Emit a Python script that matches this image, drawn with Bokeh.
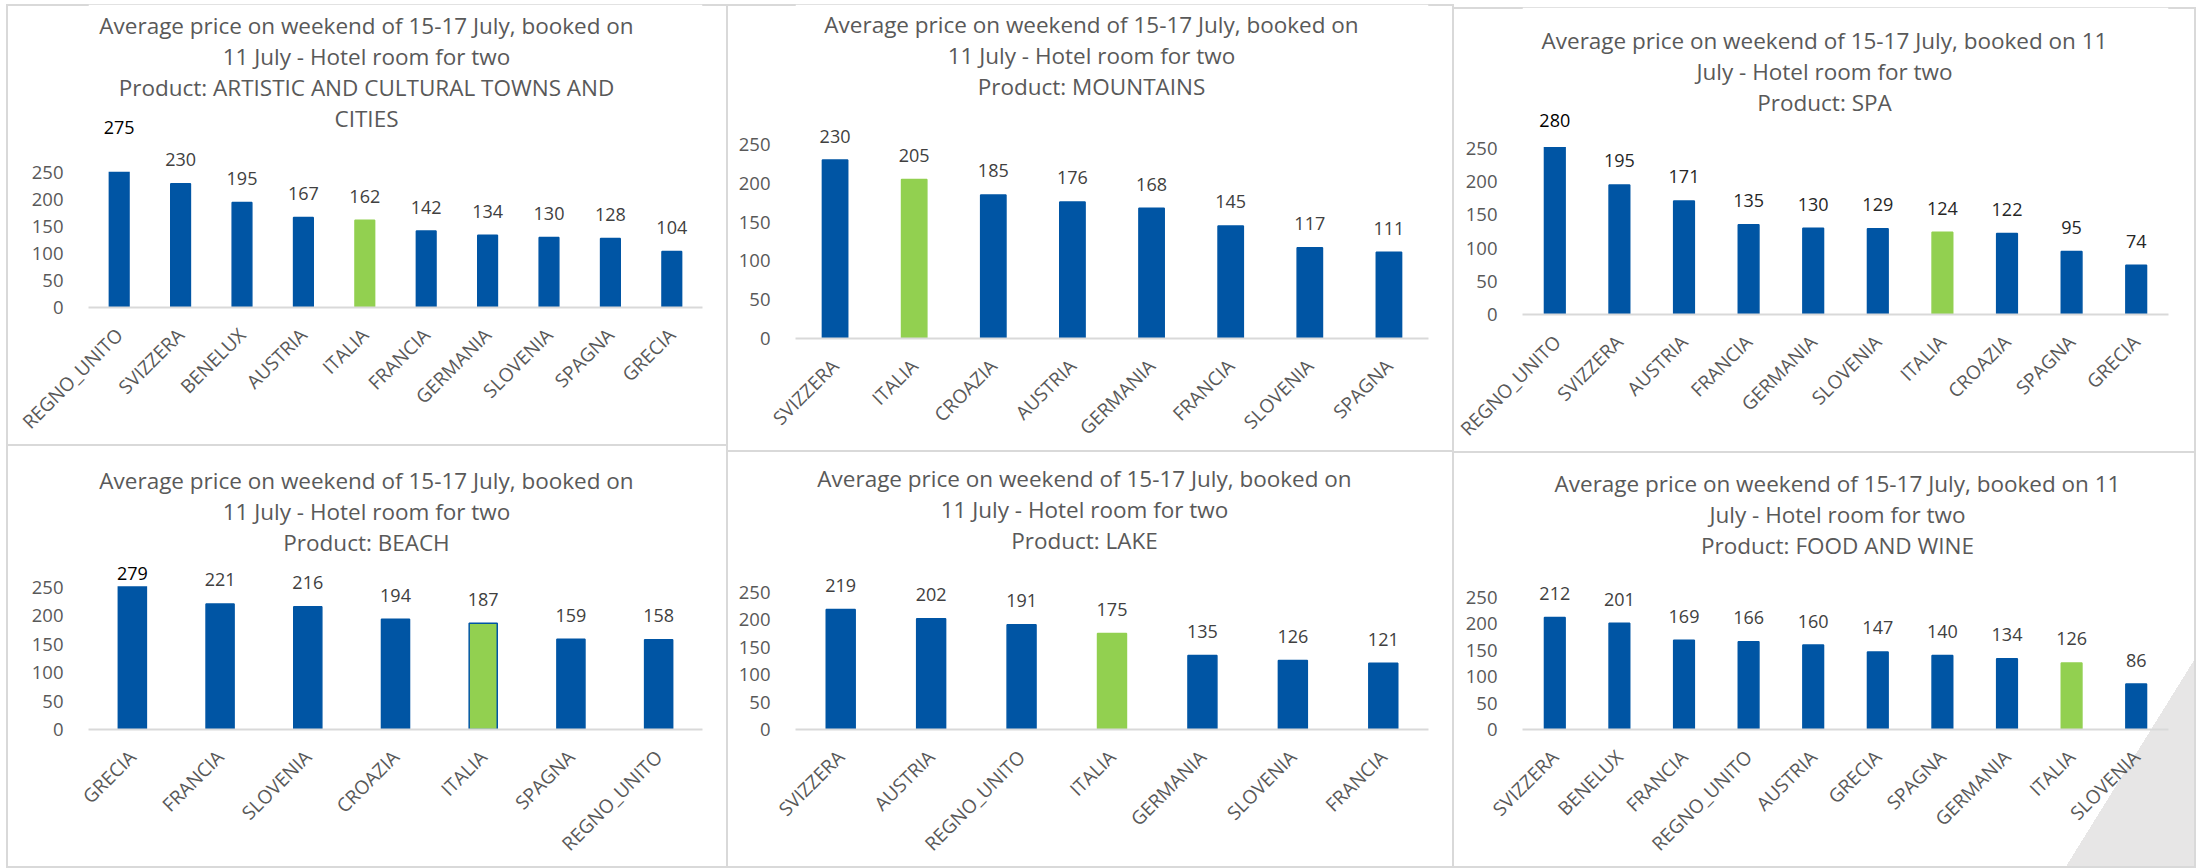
import math

from bokeh.core.properties import value
from bokeh.embed import file_html
from bokeh.layouts import column, row
from bokeh.models import (BoxAnnotation, ColumnDataSource, FactorRange,
                          FixedTicker, Label, LabelSet, Range1d)
from bokeh.plotting import figure
from bokeh.resources import INLINE

# ---------------------------------------------------------------- data
art_countries = ["REGNO_UNITO", "SVIZZERA", "BENELUX", "AUSTRIA", "ITALIA",
                 "FRANCIA", "GERMANIA", "SLOVENIA", "SPAGNA", "GRECIA"]
art_prices = [275, 230, 195, 167, 162, 142, 134, 130, 128, 104]

mountain_countries = ["SVIZZERA", "ITALIA", "CROAZIA", "AUSTRIA", "GERMANIA",
                      "FRANCIA", "SLOVENIA", "SPAGNA"]
mountain_prices = [230, 205, 185, 176, 168, 145, 117, 111]

spa_countries = ["REGNO_UNITO", "SVIZZERA", "AUSTRIA", "FRANCIA", "GERMANIA",
                 "SLOVENIA", "ITALIA", "CROAZIA", "SPAGNA", "GRECIA"]
spa_prices = [280, 195, 171, 135, 130, 129, 124, 122, 95, 74]

beach_countries = ["GRECIA", "FRANCIA", "SLOVENIA", "CROAZIA", "ITALIA",
                   "SPAGNA", "REGNO_UNITO"]
beach_prices = [279, 221, 216, 194, 187, 159, 158]

lake_countries = ["SVIZZERA", "AUSTRIA", "REGNO_UNITO", "ITALIA", "GERMANIA",
                  "SLOVENIA", "FRANCIA"]
lake_prices = [219, 202, 191, 175, 135, 126, 121]

food_countries = ["SVIZZERA", "BENELUX", "FRANCIA", "REGNO_UNITO", "AUSTRIA",
                  "GRECIA", "SPAGNA", "GERMANIA", "ITALIA", "SLOVENIA"]
food_prices = [212, 201, 169, 166, 160, 147, 140, 134, 126, 86]

y_ticks = [0, 50, 100, 150, 200, 250]
highlight_country = "ITALIA"

art_title = ["Average price on weekend of 15-17 July, booked on",
             "11 July - Hotel room for two",
             "Product: ARTISTIC AND CULTURAL TOWNS AND",
             "CITIES"]
mountain_title = ["Average price on weekend of 15-17 July, booked on",
                  "11 July - Hotel room for two",
                  "Product: MOUNTAINS"]
spa_title = ["Average price on weekend of 15-17 July, booked on 11",
             "July - Hotel room for two",
             "Product: SPA"]
beach_title = ["Average price on weekend of 15-17 July, booked on",
               "11 July - Hotel room for two",
               "Product: BEACH"]
lake_title = ["Average price on weekend of 15-17 July, booked on",
              "11 July - Hotel room for two",
              "Product: LAKE"]
food_title = ["Average price on weekend of 15-17 July, booked on 11",
              "July - Hotel room for two",
              "Product: FOOD AND WINE"]

# ---------------------------------------------------------------- style
BLUE = "#0055a4"
GREEN = "#92d050"
GRID_GREY = "#d9d9d9"
TEXT_GREY = "#595959"
VALUE_GREY = "#404040"
FONT = "Open Sans"
AXIS_CAP = 252          # value axis is capped just above the 250 tick
LINE_STEP = 31          # spacing between title lines
LABEL_LIFT = 24         # gap (px) between a bar top and its value label

EDGE = {"left": "inset 2px 0 0 0 " + GRID_GREY,
        "right": "inset -2px 0 0 0 " + GRID_GREY,
        "top": "inset 0 2px 0 0 " + GRID_GREY,
        "bottom": "inset 0 -2px 0 0 " + GRID_GREY}


def make_panel(countries, prices, title_lines, size, margin, frame, y_end,
               title_xy, edges, value_color=VALUE_GREY, outlined=None,
               corner=None, cap_lift=LABEL_LIFT):
    W, H = size
    left, right, bottom = frame
    styles = {"box-shadow": ", ".join(EDGE[e] for e in edges)}
    if corner is not None:
        cw, ch = corner
        styles["background"] = (
            "linear-gradient(to bottom right, rgba(255,255,255,0) 50%, "
            f"#e7e6e6 50%) right bottom / {cw}px {ch}px no-repeat")

    p = figure(width=W, height=H, margin=margin,
               x_range=FactorRange(factors=countries, range_padding=0),
               y_range=Range1d(0, y_end),
               output_backend="svg", toolbar_location=None,
               min_border_left=left, min_border_right=right,
               min_border_top=0, min_border_bottom=bottom,
               background_fill_alpha=0, border_fill_alpha=0,
               outline_line_color=None, styles=styles)

    fills = [GREEN if c == highlight_country else BLUE for c in countries]
    edges_c = [BLUE if c == outlined else f for c, f in zip(countries, fills)]
    capped = [v > AXIS_CAP for v in prices]
    src = ColumnDataSource(dict(
        country=countries, price=prices, fill=fills, edge=edges_c,
        label=[str(v) for v in prices],
        label_y=[min(v, AXIS_CAP) for v in prices],
        label_dy=[cap_lift if c else LABEL_LIFT for c in capped],
        label_color=["black" if c else value_color for c in capped]))

    p.vbar(x="country", top="price", width=0.32, source=src,
           fill_color="fill", line_color="edge", line_width=1.5)

    # the value axis stops at its cap: bars running past it are cut there
    p.add_layout(BoxAnnotation(bottom=AXIS_CAP, top=y_end, fill_color="white",
                               fill_alpha=1, line_color=None, level="guide"))

    p.add_layout(LabelSet(x="country", y="label_y", text="label", source=src,
                          y_offset="label_dy", text_align="center",
                          text_baseline="middle", text_color="label_color",
                          text_font=value(FONT), text_font_size="18px",
                          level="overlay"))

    tx, ty = title_xy
    for i, line in enumerate(title_lines):
        p.add_layout(Label(x=tx, y=ty + i * LINE_STEP, x_units="canvas",
                           y_units="canvas", text=line, text_align="center",
                           text_baseline="middle", text_color=TEXT_GREY,
                           text_font=FONT, text_font_size="22.5px",
                           level="overlay"))

    p.xgrid.visible = False
    p.ygrid.visible = False

    xa = p.xaxis[0]
    xa.axis_line_color = GRID_GREY
    xa.axis_line_width = 2
    xa.major_tick_line_color = None
    xa.minor_tick_line_color = None
    xa.major_label_orientation = math.pi / 4
    xa.major_label_standoff = 18
    xa.major_label_text_color = TEXT_GREY
    xa.major_label_text_font = FONT
    xa.major_label_text_font_size = "19px"

    ya = p.yaxis[0]
    ya.ticker = FixedTicker(ticks=y_ticks)
    ya.axis_line_color = None
    ya.major_tick_line_color = None
    ya.minor_tick_line_color = None
    ya.major_label_standoff = 19
    ya.major_label_text_color = TEXT_GREY
    ya.major_label_text_font = FONT
    ya.major_label_text_font_size = "18.5px"
    return p


p_art = make_panel(art_countries, art_prices, art_title,
                   size=(722, 442), margin=(4, 0, 0, 6),
                   frame=(82, 26, 133), y_end=562.6, title_xy=(360, 21),
                   edges=("left", "top", "right", "bottom"), cap_lift=44)
p_beach = make_panel(beach_countries, beach_prices, beach_title,
                     size=(722, 422), margin=(0, 0, 0, 6),
                     frame=(68, 26, 139), y_end=498.2, title_xy=(360, 34),
                     edges=("left", "right", "bottom"), outlined="ITALIA",
                     cap_lift=13)
p_mountain = make_panel(mountain_countries, mountain_prices, mountain_title,
                        size=(726, 448), margin=(4, 0, 0, 0),
                        frame=(67, 26, 114), y_end=430.4, title_xy=(363, 20),
                        edges=("top", "right", "bottom"))
p_lake = make_panel(lake_countries, lake_prices, lake_title,
                    size=(726, 416), margin=(0, 0, 0, 0),
                    frame=(67, 26, 139), y_end=505.5, title_xy=(356, 26),
                    edges=("right", "bottom"))
p_spa = make_panel(spa_countries, spa_prices, spa_title,
                   size=(742, 446), margin=(7, 0, 0, 0),
                   frame=(68, 2, 128), y_end=462.2, title_xy=(370, 33),
                   edges=("top", "right", "bottom"), value_color="#262626",
                   cap_lift=27)
p_food = make_panel(food_countries, food_prices, food_title,
                    size=(742, 415), margin=(0, 0, 0, 0),
                    frame=(67, 28, 139), y_end=522.7, title_xy=(383, 30),
                    edges=("right", "bottom"), corner=(131, 211))

page = row(column(p_art, p_beach), column(p_mountain, p_lake),
           column(p_spa, p_food))

open("out.html", "w").write(file_html(page, INLINE))
